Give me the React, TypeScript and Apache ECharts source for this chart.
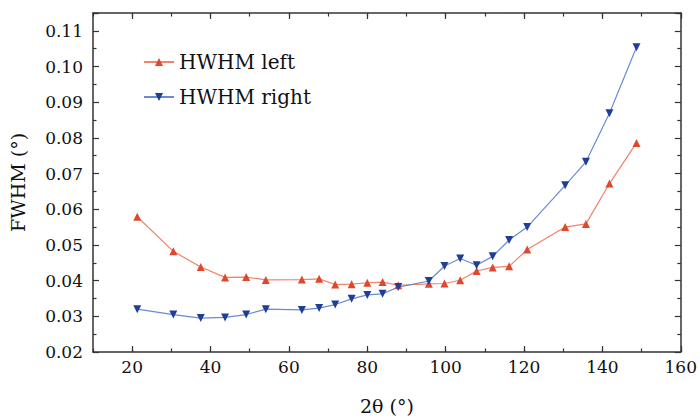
import React, { useEffect, useRef } from "react";
import * as echarts from "echarts";

const twoTheta = [21.3, 30.5, 37.5, 43.7, 49.1, 54.1, 63.3, 67.7, 71.8, 76.0, 80.0, 83.9, 87.9, 95.7, 99.7, 103.7, 107.9, 112.0, 116.2, 120.8, 130.5, 135.8, 141.8, 148.7];
const hwhmLeft = [0.0579, 0.0482, 0.0438, 0.0409, 0.0410, 0.0402, 0.0403, 0.0405, 0.0389, 0.0390, 0.0394, 0.0396, 0.0387, 0.0391, 0.0392, 0.0401, 0.0427, 0.0437, 0.0440, 0.0487, 0.0550, 0.0559, 0.0672, 0.0786];
const hwhmRight = [0.0320, 0.0305, 0.0295, 0.0297, 0.0305, 0.0320, 0.0318, 0.0323, 0.0333, 0.0349, 0.0360, 0.0363, 0.0382, 0.0399, 0.0441, 0.0462, 0.0443, 0.0468, 0.0514, 0.0550, 0.0667, 0.0733, 0.0869, 0.1054];
const seriesNames = ["HWHM left", "HWHM right"];
const xMajorTicks = [20, 40, 60, 80, 100, 120, 140, 160];
const xAxisName = "2θ (°)";
const yAxisName = "FWHM (°)";

const FONT = "DejaVu Serif";
const AXIS_COLOR = "#333";

export default function App() {
  const ref = useRef<HTMLDivElement>(null);
  useEffect(() => {
    document.body.style.margin = "0";
    const chart = echarts.init(ref.current!, null, { renderer: "svg" });
    const axisLine = { show: true, onZero: false, lineStyle: { color: AXIS_COLOR, width: 1.5 } };
    const tick = { show: true, inside: true, length: 6, lineStyle: { color: AXIS_COLOR, width: 1.2 } };
    const shortTick = { show: true, inside: true, length: 3.5, lineStyle: { color: AXIS_COLOR, width: 1.2 } };
    const minor = { show: true, splitNumber: 2, length: 3.5, lineStyle: { color: AXIS_COLOR, width: 1.2 } };
    const xBase = { type: "value" as const, min: 10, max: 160, interval: 10, splitLine: { show: false } };
    const yBase = { type: "value" as const, min: 0.02, max: 0.115, interval: 0.01, splitLine: { show: false } };
    const leftData = twoTheta.map((x, i) => [x, hwhmLeft[i]]);
    const rightData = twoTheta.map((x, i) => [x, hwhmRight[i]]);
    chart.setOption({
      animation: false,
      textStyle: { fontFamily: FONT },
      grid: { left: 88, right: 16, top: 13, bottom: 56 },
      legend: {
        left: 138,
        top: 45,
        orient: "vertical",
        itemWidth: 30,
        itemHeight: 10,
        itemGap: 11,
        textStyle: { fontFamily: FONT, fontSize: 20, color: "#111", lineHeight: 24 },
        data: seriesNames,
      },
      xAxis: [
        {
          ...xBase,
          position: "bottom",
          name: xAxisName,
          nameLocation: "middle",
          nameGap: 44,
          nameTextStyle: { fontFamily: FONT, fontSize: 19, color: "#111" },
          axisLine,
          axisTick: shortTick,
          axisLabel: {
            fontFamily: FONT,
            fontSize: 17,
            color: "#111",
            margin: 6,
            customValues: xMajorTicks,
            formatter: (v: number) => (v % 20 === 0 ? String(v) : ""),
          },
        },
        {
          ...xBase,
          position: "bottom",
          axisLine: { show: false },
          axisTick: { ...tick, customValues: xMajorTicks },
          axisLabel: { show: false },
        },
        {
          ...xBase,
          position: "top",
          axisLine,
          axisTick: shortTick,
          axisLabel: { show: false },
        },
        {
          ...xBase,
          position: "top",
          axisLine: { show: false },
          axisTick: { ...tick, customValues: xMajorTicks },
          axisLabel: { show: false },
        },
      ],
      yAxis: [
        {
          ...yBase,
          position: "left",
          name: yAxisName,
          nameLocation: "middle",
          nameGap: 66,
          nameRotate: 90,
          nameTextStyle: { fontFamily: FONT, fontSize: 19, color: "#111" },
          axisLine,
          axisTick: tick,
          minorTick: minor,
          axisLabel: {
            fontFamily: FONT,
            fontSize: 17,
            color: "#111",
            margin: 10,
            formatter: (v: number) => v.toFixed(2),
            showMaxLabel: false,
          },
        },
        {
          ...yBase,
          position: "right",
          axisLine,
          axisTick: tick,
          minorTick: minor,
          axisLabel: { show: false },
        },
      ],
      series: [
        {
          name: seriesNames[0],
          type: "line",
          data: leftData,
          symbol: "triangle",
          symbolSize: 8,
          lineStyle: { color: "#f0836a", width: 1.2 },
          itemStyle: { color: "#e0482e" },
        },
        {
          name: seriesNames[1],
          type: "line",
          data: rightData,
          symbol: "triangle",
          symbolRotate: 180,
          symbolSize: 8,
          lineStyle: { color: "#6a8bd0", width: 1.2 },
          itemStyle: { color: "#1f3e98" },
        },
      ],
    });
    return () => chart.dispose();
  }, []);
  return <div ref={ref} style={{ width: 700, height: 420 }} />;
}
